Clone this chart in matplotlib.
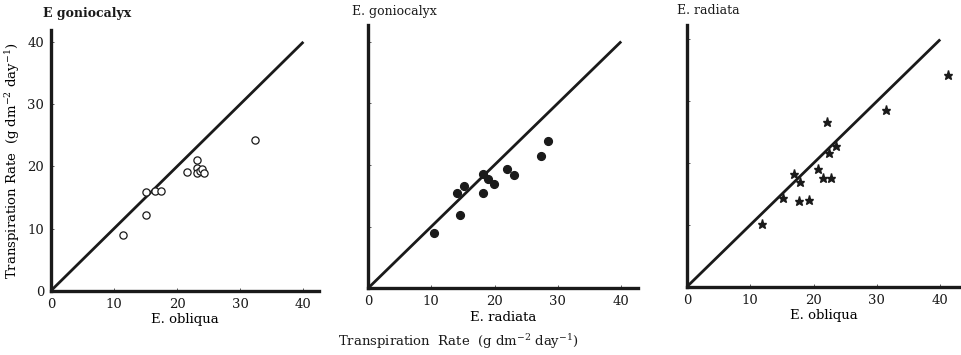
import matplotlib.pyplot as plt

# E. goniocalyx vs E. obliqua (open circles)
gon_obl_x = [11.4, 15.1, 15.0, 16.5, 17.4, 21.5, 23.1, 23.1, 23.1, 23.6, 23.9, 24.3, 32.4]
gon_obl_y = [9.0, 12.2, 15.8, 16.0, 16.0, 19.1, 21.0, 19.7, 19.0, 19.2, 19.5, 18.9, 24.2]

# E. goniocalyx vs E. radiata (filled circles)
gon_rad_x = [10.5, 14.5, 14.0, 15.1, 18.1, 18.2, 18.9, 19.9, 21.9, 23.1, 27.3, 28.4]
gon_rad_y = [8.9, 11.8, 15.4, 16.5, 15.4, 18.6, 17.7, 16.9, 19.4, 18.4, 21.4, 23.8]

# E. radiata vs E. obliqua (stars)
rad_obl_x = [11.8, 15.1, 16.9, 17.7, 17.9, 19.2, 20.7, 21.5, 22.7, 22.1, 22.4, 23.5, 31.4, 41.2]
rad_obl_y = [10.1, 14.4, 18.3, 13.9, 17.0, 14.0, 19.0, 17.6, 17.6, 26.6, 21.7, 22.7, 28.6, 34.2]

ticks = [0, 10, 20, 30, 40]
ink = '#1a1a1a'
plt.rcParams['font.family'] = ['DejaVu Serif']
plt.rcParams['mathtext.fontset'] = 'dejavuserif'

fig = plt.figure(figsize=(9.62, 3.55), dpi=100)
W, H = 962, 355


def make_axes(left_px, origin_y_px, right_px, top_px, sx, sy):
    ax = fig.add_axes([left_px / W, (H - origin_y_px) / H,
                       (right_px - left_px) / W, (origin_y_px - top_px) / H])
    ax.set_xlim(0, (right_px - left_px) / sx)
    ax.set_ylim(0, (origin_y_px - top_px) / sy)
    for s in ['top', 'right']:
        ax.spines[s].set_visible(False)
    for s in ['left', 'bottom']:
        ax.spines[s].set_linewidth(2.4)
        ax.spines[s].set_color(ink)
    ax.set_xticks(ticks)
    ax.set_yticks(ticks)
    ax.tick_params(direction='in', length=2.5, width=0.5, colors=ink,
                   labelsize=9.5, pad=5)
    ax.plot([0, 40], [0, 40], color=ink, lw=2.0, solid_capstyle='butt')
    return ax


# panel 1
ax1 = make_axes(51, 290.7, 319, 30, 6.31, 6.22)
ax1.plot(gon_obl_x, gon_obl_y, 'o', mfc='white', mec=ink, mew=0.9, ms=5.2, ls='none')
ax1.set_xlabel('E. obliqua', fontsize=9.5, labelpad=2)
ax1.set_ylabel(r'Transpiration Rate  (g dm$^{-2}$ day$^{-1}$)', fontsize=9.5, labelpad=4)
fig.text(43 / W, 1 - 13 / H, 'E goniocalyx', fontsize=9, fontweight='bold',
         va='center', ha='left', color=ink)

# panel 2
ax2 = make_axes(368, 288.3, 638, 25, 6.33, 6.17)
ax2.plot(gon_rad_x, gon_rad_y, 'o', color=ink, ms=5.6, ls='none')
ax2.set_xlabel('E. radiata', fontsize=9.5, labelpad=2)
ax2.tick_params(axis='y', labelleft=False)
fig.text(352 / W, 1 - 11 / H, 'E. goniocalyx', fontsize=9,
         va='center', ha='left', color=ink)

# panel 3
ax3 = make_axes(687, 286.7, 960, 25, 6.33, 6.18)
ax3.plot(rad_obl_x, rad_obl_y, '*', color=ink, ms=6.5, ls='none')
ax3.set_xlabel('E. obliqua', fontsize=9.5, labelpad=2)
ax3.tick_params(axis='y', labelleft=False)
fig.text(677 / W, 1 - 11 / H, 'E. radiata', fontsize=9,
         va='center', ha='left', color=ink)

# shared bottom label
fig.text(458 / W, 1 - 342 / H, r'Transpiration  Rate  (g dm$^{-2}$ day$^{-1}$)',
         fontsize=9.5, ha='center', va='center', color=ink)

fig.savefig('out.png', dpi=100, facecolor='white')
